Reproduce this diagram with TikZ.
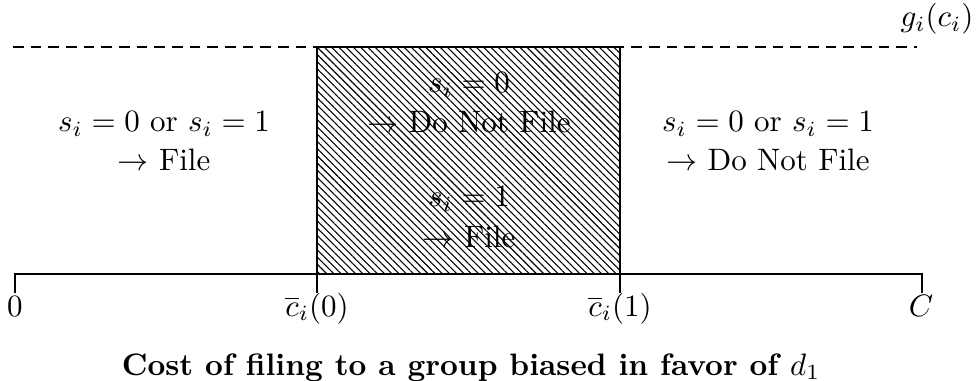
\documentclass[tikz,border=0pt]{standalone}
\usetikzlibrary{patterns.meta}
\begin{document}
\begin{tikzpicture}[x=0.3226pt,y=-0.3226pt,
  lbl/.style={anchor=base,inner sep=0pt},
  axisline/.style={line width=0.65pt,line join=miter},
  guide/.style={line width=0.4pt,dash pattern=on 3.4pt off 2.3pt},
  hatchbox/.style={line width=0.4pt,pattern={Lines[angle=-45,distance=1.65pt,line width=0.35pt]}}]
\useasboundingbox (0,0) rectangle (977,381);
% coordinates
\coordinate (a0) at (15,274);
\coordinate (a1) at (317,274);
\coordinate (a2) at (620,274);
\coordinate (a3) at (922,274);
\coordinate (t0) at (15,293);
\coordinate (t1) at (317,293);
\coordinate (t2) at (620,293);
\coordinate (t3) at (922,293);
\coordinate (d0) at (13,47);
\coordinate (d1) at (917,47);
\coordinate (b0) at (317,47);
% dashed level line
\draw[guide] (d0) -- (d1);
\node[lbl] (g) at (937,27) {$g_i(c_i)$};
% region texts
\node[lbl] (l1) at (164,132) {$s_i=0$ or $s_i=1$};
\node[lbl] (l2) at (164,171) {$\rightarrow$ File};
\node[lbl] (m1) at (469,93) {$s_i=0$};
\node[lbl] (m2) at (469,133) {$\rightarrow$ Do Not File};
\node[lbl] (m3) at (469,207) {$s_i=1$};
\node[lbl] (m4) at (469,248) {$\rightarrow$ File};
\node[lbl] (r1) at (768,132) {$s_i=0$ or $s_i=1$};
\node[lbl] (r2) at (768,171) {$\rightarrow$ Do Not File};
% hatched box
\draw[hatchbox] (b0) rectangle (a2);
% axis
\draw[axisline] (t0) -- (a0) -- (a3) -- (t3);
\draw[axisline] (a1) -- (t1);
\draw[axisline] (a2) -- (t2);
% axis labels
\node[lbl] (x0) at (15,316) {$0$};
\node[lbl] (x1) at (317,316) {$\overline{c}_i(0)$};
\node[lbl] (x2) at (620,316) {$\overline{c}_i(1)$};
\node[lbl] (x3) at (921,316) {$C$};
% title
\node[lbl] (title) at (471,375) {\textbf{Cost of filing to a group biased in favor of $d_1$}};
\end{tikzpicture}
\end{document}
